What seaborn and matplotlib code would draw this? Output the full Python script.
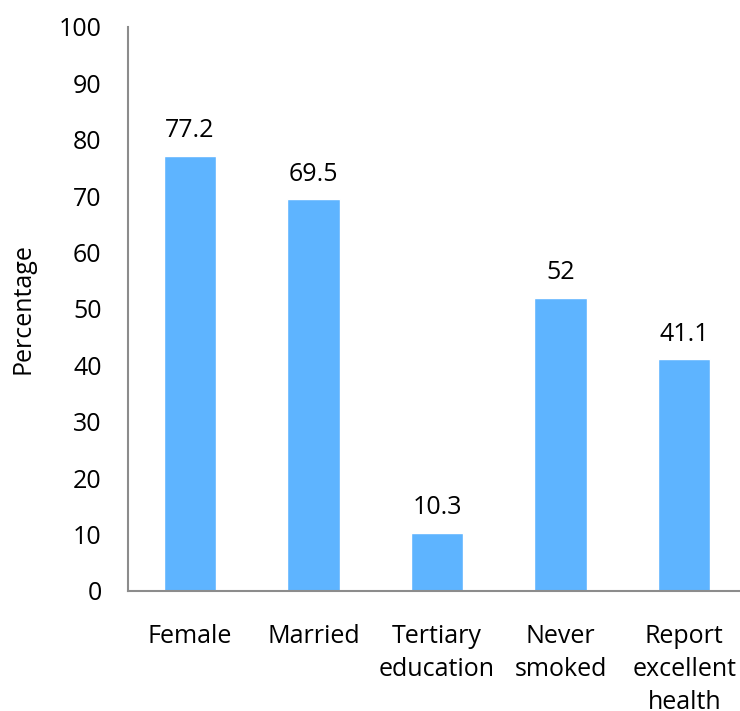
import matplotlib
matplotlib.use("Agg")
import matplotlib.pyplot as plt
import seaborn as sns
import pandas as pd

categories = ["Female", "Married", "Tertiary\neducation", "Never\nsmoked", "Report\nexcellent\nhealth"]
values = [77.2, 69.5, 10.3, 52, 41.1]
value_labels = ["77.2", "69.5", "10.3", "52", "41.1"]
yticks = [0, 10, 20, 30, 40, 50, 60, 70, 80, 90, 100]

sns.set_style("white")
plt.rcParams['font.family'] = ['Open Sans', 'DejaVu Sans']
plt.rcParams['text.color'] = 'black'
plt.rcParams['axes.labelcolor'] = 'black'

FS = 18
W, H = 740, 711
fig = plt.figure(figsize=(W / 100, H / 100), dpi=100)
left, right, top, bottom = 128, 746, 27, 591
ax = fig.add_axes([left / W, 1 - bottom / H, (right - left) / W, (bottom - top) / H])

df = pd.DataFrame({"cat": categories, "val": values})
sns.barplot(data=df, x="cat", y="val", color="#5EB4FF", saturation=1, width=0.425, ax=ax)

ax.set_xlim(-0.5, 4.5)
ax.set_ylim(0, 100)
ax.set_yticks(yticks)
ax.set_yticklabels([str(t) for t in yticks], fontsize=FS)
ax.tick_params(axis="y", length=0, pad=19, labelcolor="black")
ax.tick_params(axis="x", length=0, pad=24, labelsize=FS, labelcolor="black")
for lbl in ax.get_xticklabels():
    lbl.set_linespacing(1.4)
    lbl.set_verticalalignment("top")

ax.set_xlabel("")
ax.set_ylabel("Percentage", fontsize=FS, color="black")
ax.yaxis.set_label_coords((36 - left) / (right - left), 0.5)

for s in ["top", "right"]:
    ax.spines[s].set_visible(False)
for s in ["left", "bottom"]:
    ax.spines[s].set_color("#8C8C8C")
    ax.spines[s].set_linewidth(1.5)

for i, (v, t) in enumerate(zip(values, value_labels)):
    ax.annotate(t, (i, v), xytext=(0, 9), textcoords="offset points",
                ha="center", va="bottom", fontsize=FS, color="black")

fig.savefig("out.png", dpi=100)
